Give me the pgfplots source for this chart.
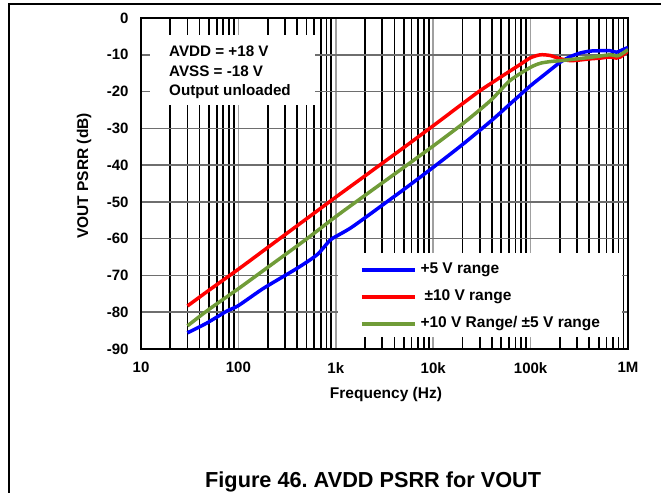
\documentclass[border=0pt]{standalone}
\usepackage{fontspec}
\setmainfont{Liberation Sans}
\usepackage{pgfplots}
\pgfplotsset{compat=1.18}
\definecolor{cblue}{RGB}{0,0,255}
\definecolor{cred}{RGB}{255,0,0}
\definecolor{cgreen}{RGB}{112,156,56}
\definecolor{vgray}{RGB}{160,160,160}
\definecolor{hgray}{RGB}{110,110,110}
\frenchspacing
\begin{document}
\begin{tikzpicture}
\useasboundingbox (0,0) rectangle (671bp,-493bp);
\draw[line width=1.2bp] (9bp,-493bp) -- (9bp,-4bp) -- (661bp,-4bp);
\begin{axis}[
  at={(141bp,-349bp)}, anchor=south west,
  scale only axis, width=487bp, height=331bp,
  xmode=log, log basis x=10,
  xmin=10, xmax=1000000, ymin=-90, ymax=0,
  xtick={10,100,1000,10000,100000,1000000},
  xticklabels={10,100,1k,10k,100k,1M},
  minor xtick={20,30,40,50,60,70,80,90,200,300,400,500,600,700,800,900,2000,3000,4000,5000,6000,7000,8000,9000,20000,30000,40000,50000,60000,70000,80000,90000,200000,300000,400000,500000,600000,700000,800000,900000},
  ytick={-90,-80,-70,-60,-50,-40,-30,-20,-10,0},
  yticklabels={-90,-80,-70,-60,-50,-40,-30,-20,-10,0},
  xmajorgrids, xminorgrids, ymajorgrids,
  major tick length=0pt, minor tick length=0pt,
  major grid style={vgray, line width=1.7bp},
  minor grid style={black, line width=1.7bp},
  y grid style={hgray, line width=1.5bp},
  axis line style={line width=2.5bp},
  ticklabel style={font=\fontsize{15bp}{18bp}\selectfont\bfseries},
  yticklabel style={xshift=-9bp},
  xticklabel style={yshift=-10bp},
  label style={font=\fontsize{15.5bp}{18bp}\selectfont\bfseries},
  xlabel={Frequency (Hz)},
  ylabel={VOUT PSRR (dB)},
  xlabel style={at={(axis description cs:0.503,-0.136)}, anchor=center},
  ylabel style={at={(axis description cs:-0.117,0.5227)}, anchor=center},
  legend style={draw=none, fill=none, at={(axis description cs:0.4497,0.157)}, anchor=west,
    inner sep=0pt, outer sep=0pt, row sep=12bp, column sep=4bp,
    nodes={inner sep=0pt, text height=11bp, text depth=4bp, font=\fontsize{15.5bp}{18bp}\selectfont\bfseries}},
  legend cell align=left,
  legend image code/.code={\draw[#1] (0bp,0bp) -- (53bp,0bp);},
]
\fill[white] (axis cs:12.37,-4.62) rectangle (axis cs:611,-23.65);
\fill[white] (axis cs:1053,-63.9) rectangle (axis cs:868000,-86.7);

\addplot[cblue, line width=3.5bp, smooth, tension=0.4] coordinates {
(30,-85.6) (47,-83.0) (76,-79.7) (100,-78.2) (181,-73.5) (398,-68.1) (640,-64.4)
(873,-60.4) (1020,-59.3) (1400,-57.2) (2000,-54.3) (5000,-46.6) (10000,-40.6)
(20000,-34.4) (40000,-27.8) (67000,-22.5) (100000,-18.4) (148000,-14.8)
(202000,-12.0) (256000,-10.5) (325000,-9.5) (410000,-9.0) (521000,-8.9)
(656000,-8.9) (760000,-9.3) (835000,-8.9) (1000000,-8.0)};
\addlegendentry{+5 V range}

\addplot[cred, line width=3.5bp, smooth, tension=0.4] coordinates {
(30,-78.3) (50,-74.0) (100,-68.3) (200,-62.4) (500,-54.6) (1000,-48.7)
(2000,-42.9) (5000,-35.2) (10000,-29.3) (20000,-23.3) (30500,-19.7) (49000,-16.1)
(78500,-12.6) (100000,-10.8) (126000,-10.0) (159000,-10.2) (202000,-11.1)
(256000,-11.6) (325000,-11.4) (410000,-11.1) (521000,-10.9) (650000,-10.6)
(760000,-10.9) (835000,-10.6) (1000000,-9.0)};
\addlegendentry{\hspace{4bp}±10 V range}

\addplot[cgreen, line width=3.5bp, smooth, tension=0.4] coordinates {
(30,-83.7) (50,-79.2) (100,-73.6) (200,-67.8) (500,-60.1) (1000,-54.0)
(2000,-48.2) (5000,-40.6) (10000,-34.8) (20000,-28.8) (38600,-22.5)
(61500,-17.0) (100000,-13.4) (126000,-12.3) (159000,-11.85) (202000,-11.6)
(256000,-11.3) (410000,-10.7) (656000,-10.0) (760000,-10.3) (835000,-10.0)
(1000000,-8.6)};
\addlegendentry{+10 V Range/ ±5 V range}
\end{axis}
\node[anchor=north west, align=left, inner sep=0pt,
  font=\fontsize{15.2bp}{19.2bp}\selectfont\bfseries] at (169bp,-46bp)
  {AVDD = +18 V\\AVSS = -18 V\\Output unloaded};
\node[anchor=base west, inner sep=0pt,
  font=\fontsize{21.7bp}{26bp}\selectfont\bfseries] at (205bp,-487bp)
  {Figure 46. AVDD PSRR for VOUT};
\end{tikzpicture}
\end{document}
